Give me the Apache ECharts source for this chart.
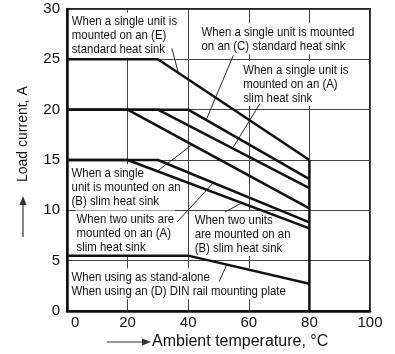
<!DOCTYPE html>
<html>
<head>
<meta charset="utf-8">
<script src="https://cdn.jsdelivr.net/npm/echarts@6/dist/echarts.min.js"></script>
<style>
  html, body { margin: 0; padding: 0; background: #fff; }
  #chart { width: 395px; height: 354px; }
</style>
</head>
<body>
<div id="chart"></div>
<script>
// Axis ticks
const xTicks = [0, 20, 40, 60, 80, 100];
const yTicks = [0, 5, 10, 15, 20, 25, 30];

// Derating curves: [ambient temperature °C, load current A]
const sinkE = [[0, 25], [30, 25], [80, 15]];
const sinkC = [[0, 20], [40, 20], [80, 13.1]];
const slimA = [[0, 20], [30, 20], [80, 12.2]];
const slimB = [[0, 20], [20, 20], [80, 10.2]];
const twoSlimA = [[0, 15], [30, 15], [80, 8.8]];
const twoSlimB = [[0, 15], [20, 15], [80, 8.2]];
const standAlone = [[0, 5.5], [40, 5.5], [80, 2.7]];
const cutoff = [[80, 0], [80, 15]];

// Annotation texts
const noteTexts = [
  'When a single unit is\nmounted on an (E)\nstandard heat sink',
  'When a single unit is mounted\non an (C) standard heat sink',
  'When a single unit is\nmounted on an (A)\nslim heat sink',
  'When a single\nunit is mounted on an\n(B) slim heat sink',
  'When two units are\nmounted on an (A)\nslim heat sink',
  'When two units\nare mounted on an\n(B) slim heat sink',
  'When using as stand-alone\nWhen using an (D) DIN rail mounting plate'
];
// Top-left corner of each annotation, in chart units
const noteAnchors = [
  [1.65, 29.43], [44.45, 28.38], [58.18, 24.63], [1.55, 14.37],
  [3.2, 9.78], [42.2, 9.73], [1.55, 4.04]
];
// Leader lines from annotations to curves, in chart units
const leaders = [
  [[34.6, 26.1], [36.7, 23.7]],
  [[54.9, 25.4], [46.1, 19.1]],
  [[63.7, 20.6], [54.9, 16.3]],
  [[29.6, 13.84], [41.2, 16.5]],
  [[36.3, 8.84], [48.2, 12.7]],
  [[52.1, 9.83], [58.1, 10.8]],
  [[50.2, 2.91], [52.7, 4.6]]
];

const curves = [sinkE, sinkC, slimA, slimB, twoSlimA, twoSlimB, standAlone, cutoff];

const chart = echarts.init(document.getElementById('chart'), null, { renderer: 'canvas' });

const axisFont = 'Liberation Sans, Arial, sans-serif';
const ink = '#111';

const series = curves.map(c => ({
  type: 'line',
  data: c,
  symbol: 'none',
  z: 3,
  animation: false,
  lineStyle: { color: ink, width: 2.5 },
  emphasis: { disabled: true },
  silent: true
}));

leaders.forEach(l => series.push({
  type: 'line',
  data: l,
  symbol: 'none',
  z: 4,
  animation: false,
  lineStyle: { color: ink, width: 0.9 },
  emphasis: { disabled: true },
  silent: true
}));

const axisTitles = [
  {
    type: 'text', x: 152, y: 342, z: 20,
    style: { text: 'Ambient temperature, °C', fontSize: 16, fontFamily: axisFont, fill: ink, verticalAlign: 'middle' }
  },
  { type: 'line', z: 20, shape: { x1: 107, y1: 342, x2: 144, y2: 342 }, style: { stroke: '#333', lineWidth: 1.2 } },
  { type: 'polygon', z: 20, shape: { points: [[151, 342], [142, 338.5], [142, 345.5]] }, style: { fill: '#333' } },
  {
    type: 'text', x: 23, y: 182, rotation: Math.PI / 2, z: 20,
    style: { text: 'Load current, A', fontSize: 14, fontFamily: axisFont, fill: ink, align: 'left', verticalAlign: 'middle' }
  },
  { type: 'line', z: 20, shape: { x1: 23, y1: 237, x2: 23, y2: 203 }, style: { stroke: '#333', lineWidth: 1.2 } },
  { type: 'polygon', z: 20, shape: { points: [[23, 196], [19.5, 205], [26.5, 205]] }, style: { fill: '#333' } }
];

chart.setOption({
  animation: false,
  backgroundColor: '#fff',
  grid: {
    left: 67, right: 25, top: 9, bottom: 43,
    containLabel: false,
    outerBoundsMode: 'none',
    show: true,
    borderColor: '#222',
    borderWidth: 2
  },
  xAxis: {
    type: 'value',
    min: xTicks[0],
    max: xTicks[xTicks.length - 1],
    interval: xTicks[1] - xTicks[0],
    axisLine: { show: true, lineStyle: { color: ink, width: 2.5 } },
    axisTick: { show: false },
    splitLine: { show: true, lineStyle: { color: '#444', width: 1 } },
    axisLabel: {
      margin: 4,
      color: ink,
      fontSize: 15,
      fontFamily: axisFont,
      alignMinLabel: 'left',
      formatter: v => v === 0 ? '{z|0}' : String(v),
      rich: { z: { fontSize: 15, fontFamily: axisFont, color: ink, padding: [0, 0, 0, 4] } }
    }
  },
  yAxis: {
    type: 'value',
    min: yTicks[0],
    max: yTicks[yTicks.length - 1],
    interval: yTicks[1] - yTicks[0],
    axisLine: { show: true, lineStyle: { color: ink, width: 2.5 } },
    axisTick: { show: false },
    splitLine: { show: true, lineStyle: { color: '#444', width: 1 } },
    axisLabel: { margin: 7, color: ink, fontSize: 15, fontFamily: axisFont }
  },
  graphic: axisTitles,
  series: series
});

// Annotations: condensed sans text on white, placed through the grid's scales;
// drawn above the grid lines but beneath the curves and leaders
const notes = noteAnchors.map((a, i) => {
  const [px, py] = chart.convertToPixel({ gridIndex: 0 }, a);
  return {
    type: 'text',
    x: px - 1,
    y: py - 2,
    z: 1,
    scaleX: 0.845,
    style: {
      text: noteTexts[i],
      fontSize: 13.5,
      fontFamily: axisFont,
      lineHeight: 14,
      fill: ink,
      backgroundColor: '#fff',
      padding: [2, 1, 1, 1],
      align: 'left',
      verticalAlign: 'top'
    }
  };
});

chart.setOption({ graphic: axisTitles.concat(notes) });
</script>
</body>
</html>
